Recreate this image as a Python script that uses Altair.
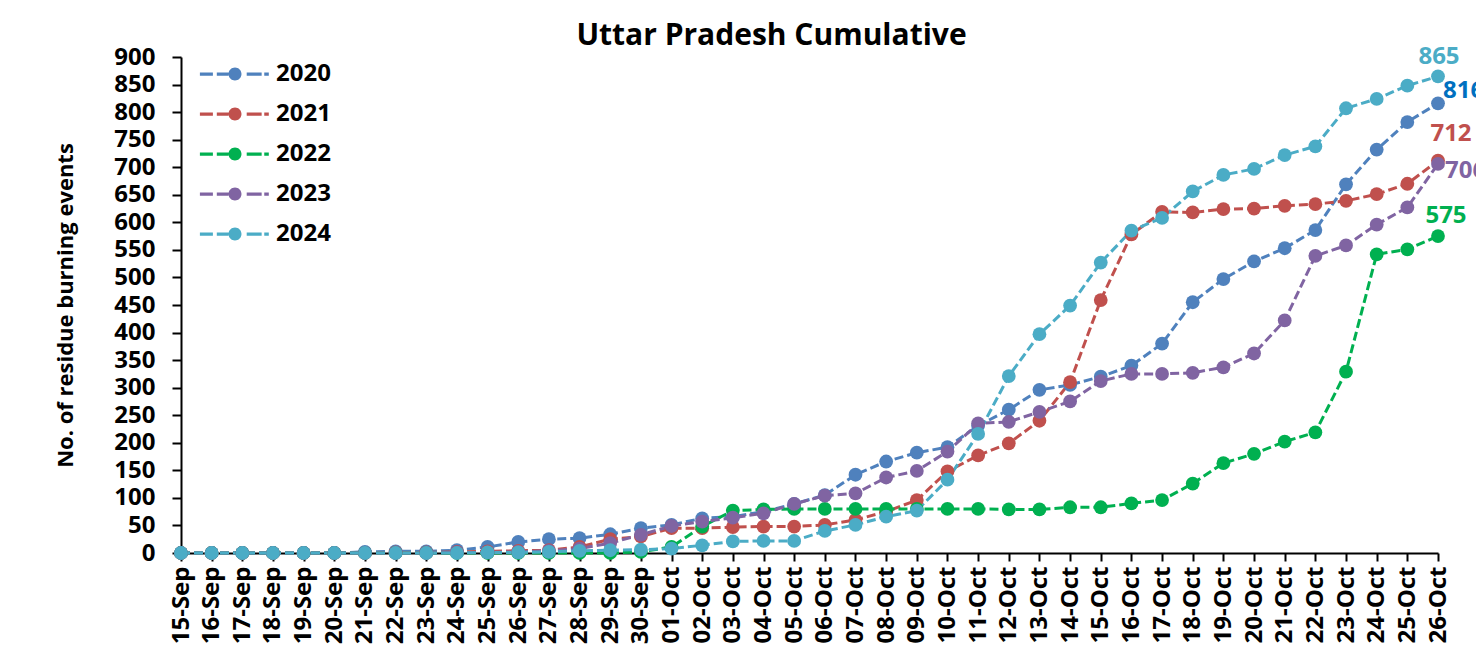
import altair as alt
import pandas as pd

dates = ["15-Sep", "16-Sep", "17-Sep", "18-Sep", "19-Sep", "20-Sep", "21-Sep", "22-Sep",
         "23-Sep", "24-Sep", "25-Sep", "26-Sep", "27-Sep", "28-Sep", "29-Sep", "30-Sep",
         "01-Oct", "02-Oct", "03-Oct", "04-Oct", "05-Oct", "06-Oct", "07-Oct", "08-Oct",
         "09-Oct", "10-Oct", "11-Oct", "12-Oct", "13-Oct", "14-Oct", "15-Oct", "16-Oct",
         "17-Oct", "18-Oct", "19-Oct", "20-Oct", "21-Oct", "22-Oct", "23-Oct", "24-Oct",
         "25-Oct", "26-Oct"]

y2020 = [0, 0, 0, 0, 0, 0, 2, 3, 3, 5, 11, 20, 25, 27, 34, 45,
         51, 63, 66, 75, 89, 105, 142, 166, 182, 192, 231, 260, 296, 305, 320, 340,
         380, 455, 497, 529, 553, 586, 669, 732, 782, 816]
y2021 = [0, 0, 0, 0, 0, 0, 0, 1, 1, 2, 3, 4, 5, 11, 25, 30,
         45, 45, 47, 48, 48, 51, 60, 75, 96, 148, 177, 199, 240, 310, 459, 578,
         619, 618, 624, 625, 630, 633, 639, 651, 670, 712]
y2022 = [0, 0, 0, 0, 0, 0, 0, 0, 0, 0, 0, 0, 0, 0, 0, 2,
         11, 48, 77, 79, 80, 80, 80, 80, 80, 80, 80, 79, 79, 83, 83, 90,
         96, 126, 163, 180, 202, 219, 329, 542, 551, 575]
y2023 = [0, 0, 0, 0, 0, 0, 0, 0, 0, 1, 1, 2, 4, 8, 18, 33,
         49, 57, 64, 72, 89, 104, 108, 137, 149, 184, 235, 238, 256, 275, 312, 325,
         325, 327, 337, 362, 422, 539, 558, 596, 627, 706]
y2024 = [0, 0, 0, 0, 0, 0, 0, 0, 0, 0, 1, 1, 2, 4, 5, 6,
         8, 14, 21, 22, 22, 40, 51, 66, 77, 133, 216, 321, 397, 449, 527, 585,
         608, 656, 686, 697, 722, 738, 807, 824, 848, 865]

years = ["2020", "2021", "2022", "2023", "2024"]
colors = ["#4F81BD", "#C0504D", "#00B050", "#8064A2", "#4BACC6"]
label_colors = ["#0070C0", "#C0504D", "#00B050", "#8064A2", "#4BACC6"]
y_ticks = [0, 50, 100, 150, 200, 250, 300, 350, 400, 450, 500, 550, 600, 650, 700,
           750, 800, 850, 900]

rows = []
for yr, vals in zip(years, [y2020, y2021, y2022, y2023, y2024]):
    for d, v in zip(dates, vals):
        rows.append({"date": d, "year": yr, "value": v})
df = pd.DataFrame(rows)

FONT = "Open Sans"
color_scale = alt.Scale(domain=years, range=colors)

x_enc = alt.X("date:O", sort=dates,
              scale=alt.Scale(type="point", padding=0),
              axis=alt.Axis(title=None, labelAngle=270, labelFontSize=24,
                            labelPadding=5, tickSize=8))
y_enc = alt.Y("value:Q", scale=alt.Scale(domain=[0, 900], nice=False),
              axis=alt.Axis(values=y_ticks, title="No. of residue burning events",
                            titleFontSize=22, titlePadding=36, labelFontSize=24,
                            labelPadding=17, tickSize=9))

legend_path = ("M-5.4,-0.25H-3.4V0.25H-5.4Z M-2.8,-0.25H-1V0.25H-2.8Z "
               "M1.8,-0.25H4.1V0.25H1.8Z M4.5,-0.25H5.2V0.25H4.5Z "
               "M-1,0A1,1,0,1,0,1,0A1,1,0,1,0,-1,0Z")

legend = alt.Legend(title=None, orient="none", legendX=42, legendY=5,
                    symbolType=legend_path, symbolSize=169,
                    symbolStrokeWidth=0, symbolOpacity=1,
                    labelOffset=29, rowPadding=16, padding=0,
                    labelFontSize=24, labelFont=FONT,
                    labelFontWeight="bold", labelColor="black")

base = alt.Chart(df)

lines = base.mark_line(strokeDash=[9, 4], strokeWidth=3).encode(
    x=x_enc, y=y_enc,
    color=alt.Color("year:N", scale=color_scale, legend=legend),
    detail="year:N",
)

points = base.mark_circle(size=190, opacity=1).encode(
    x=x_enc, y=y_enc,
    color=alt.Color("year:N", scale=color_scale, legend=legend),
)

label_offsets = {
    "2020": dict(dx=5, dy=-12, align="left"),
    "2021": dict(dx=13, dy=-27, align="center"),
    "2022": dict(dx=8, dy=-20, align="center"),
    "2023": dict(dx=7, dy=7, align="left"),
    "2024": dict(dx=1, dy=-19, align="center"),
}

texts = []
last = dates[-1]
for yr, lc in zip(years, label_colors):
    o = label_offsets[yr]
    t = base.mark_text(font=FONT, fontSize=24, fontWeight="bold", color=lc,
                       baseline="middle", **o).encode(
        x=x_enc, y=y_enc, text=alt.Text("value:Q"),
    ).transform_filter(
        (alt.datum.year == yr) & (alt.datum.date == last)
    )
    texts.append(t)

chart = alt.layer(lines, points, *texts).properties(
    width=1257, height=496,
    padding={"left": 173, "top": 49, "right": 38, "bottom": 109},
    autosize=alt.AutoSizeParams(type="none"),
    background="white",
    title=alt.TitleParams("Uttar Pradesh Cumulative", fontSize=30, font=FONT,
                          fontWeight="bold", color="black", anchor="middle",
                          dx=-38, dy=14, offset=8),
).configure_view(stroke=None).configure_axis(
    grid=False, domainColor="black", domainWidth=2, tickColor="black", tickWidth=2,
    labelColor="black", labelFont=FONT, labelFontWeight="bold",
    titleFont=FONT, titleFontWeight="bold", titleColor="black",
)

chart.save("out.html", embed_options={"renderer": "svg", "actions": False})
